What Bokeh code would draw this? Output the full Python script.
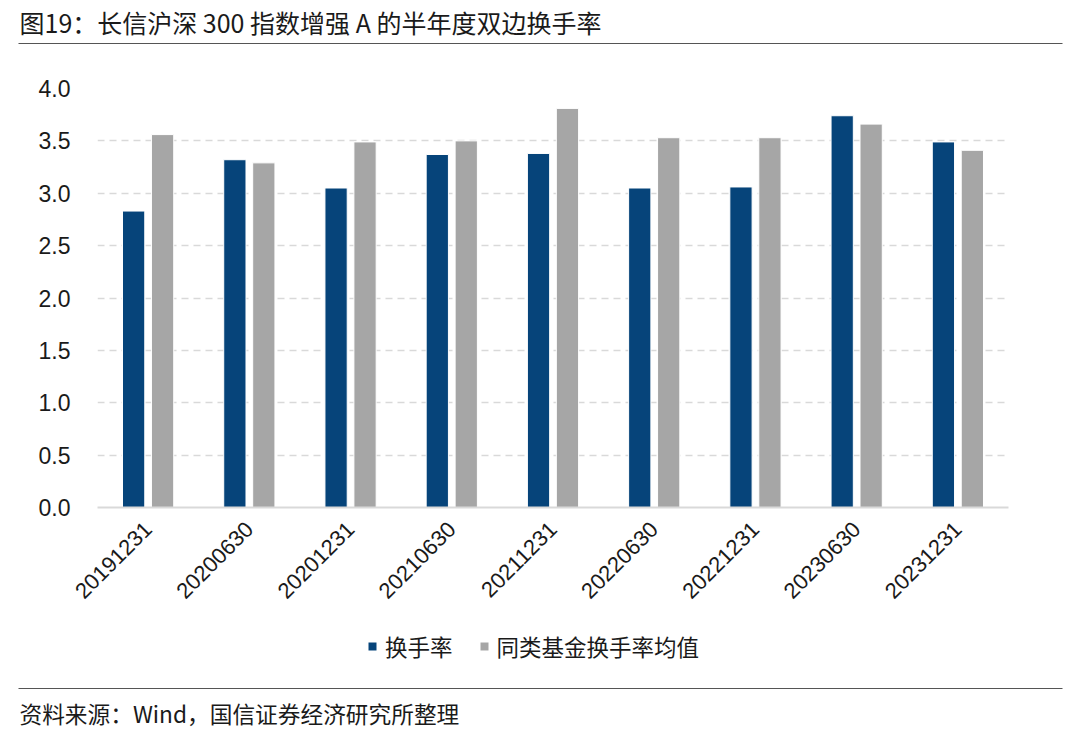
import math
from bokeh.plotting import figure
from bokeh.layouts import column
from bokeh.models import (ColumnDataSource, FactorRange, Range1d, Legend, LegendItem,
                          SingleIntervalTicker, PrintfTickFormatter)
from bokeh.transform import dodge
from bokeh.core.properties import value
from bokeh.embed import file_html
from bokeh.resources import INLINE

categories = ["20191231", "20200630", "20201231", "20210630", "20211231",
              "20220630", "20221231", "20230630", "20231231"]
turnover = [2.83, 3.32, 3.05, 3.37, 3.38, 3.05, 3.06, 3.74, 3.49]
peer_avg = [3.56, 3.29, 3.49, 3.50, 3.81, 3.53, 3.53, 3.66, 3.41]
series_names = ["换手率", "同类基金换手率均值"]
title_text = "图19：长信沪深 300 指数增强 A 的半年度双边换手率"
source_text = "资料来源：Wind，国信证券经济研究所整理"

CJK = "Noto Sans CJK SC"
LAT = "Liberation Sans"
BLUE = "#06447A"
GRAY = "#A6A6A6"
W = 1080

def bare(fig):
    fig.axis.visible = False
    fig.grid.visible = False
    fig.outline_line_color = None
    fig.min_border = 0
    fig.background_fill_color = "white"
    fig.border_fill_color = "white"

# header
HH = 52
hdr = figure(width=W, height=HH, x_range=Range1d(0, W), y_range=Range1d(HH, 0),
             output_backend="svg", toolbar_location=None, frame_align=False)
bare(hdr)
hdr.text(x=[19], y=[21], text=[title_text], text_font=value(CJK), text_font_size="25px",
         text_color="#1a1a1a", text_baseline="middle", text_align="left")
hdr.segment(x0=[18], y0=[43], x1=[1062], y1=[43], line_color="#555555", line_width=1.2)

# main chart
src = ColumnDataSource(dict(cat=categories, a=turnover, b=peer_avg))
p = figure(width=W, height=558, x_range=FactorRange(*categories, range_padding=0),
           y_range=Range1d(0, 4.0), output_backend="svg", toolbar_location=None,
           frame_align=False,
           min_border_left=97, min_border_right=72, min_border_top=36, min_border_bottom=103)
p.outline_line_color = None
p.background_fill_color = "white"
p.border_fill_color = "white"

r1 = p.vbar(x=dodge("cat", -0.143, range=p.x_range), top="a", width=0.22, source=src,
            fill_color=BLUE, line_color="white", line_width=1)
r2 = p.vbar(x=dodge("cat", 0.143, range=p.x_range), top="b", width=0.22, source=src,
            fill_color=GRAY, line_color="white", line_width=1)

p.xgrid.grid_line_color = None
p.ygrid.grid_line_color = "#D9D9D9"
p.ygrid.grid_line_dash = "7 5"
p.ygrid.grid_line_width = 1.5
p.yaxis.ticker = SingleIntervalTicker(interval=0.5)
p.yaxis.formatter = PrintfTickFormatter(format="%.1f")
p.yaxis.axis_line_color = None
p.yaxis.major_tick_line_color = None
p.yaxis.minor_tick_line_color = None
p.yaxis.major_label_text_font = LAT
p.yaxis.major_label_text_font_size = "23px"
p.yaxis.major_label_text_color = "#1a1a1a"
p.yaxis.major_label_standoff = 21

p.xaxis.axis_line_color = "#D9D9D9"
p.xaxis.axis_line_width = 2
p.xaxis.major_tick_line_color = None
p.xaxis.minor_tick_line_color = None
p.xaxis.major_label_orientation = math.pi / 4
p.xaxis.major_label_text_font = LAT
p.xaxis.major_label_text_font_size = "22px"
p.xaxis.major_label_text_color = "#1a1a1a"
p.xaxis.major_label_standoff = 12

# footer with legend and source
FH = 124
ftr = figure(width=W, height=FH, x_range=Range1d(0, W), y_range=Range1d(FH, 0),
             output_backend="svg", toolbar_location=None, frame_align=False)
bare(ftr)
# zero-height, off-range keys so the legend can show the series colours
keys = ColumnDataSource(dict(x=[2000], top=[0]))
k1 = ftr.vbar(x="x", top="top", bottom="top", width=1, source=keys, fill_color=BLUE, line_color=None)
k2 = ftr.vbar(x="x", top="top", bottom="top", width=1, source=keys, fill_color=GRAY, line_color=None)
legend = Legend(items=[LegendItem(label=series_names[0], renderers=[k1]),
                       LegendItem(label=series_names[1], renderers=[k2])],
                orientation="horizontal", location=(367, FH - 52),
                label_text_font=CJK, label_text_font_size="22.5px", label_text_color="#1a1a1a",
                glyph_width=10, glyph_height=10, spacing=26, label_standoff=8,
                border_line_color=None, background_fill_alpha=0, margin=0, padding=0)
ftr.add_layout(legend, "center")
ftr.segment(x0=[18], y0=[78], x1=[1062], y1=[78], line_color="#555555", line_width=1.2)
ftr.text(x=[19], y=[103], text=[source_text], text_font=value(CJK), text_font_size="22.7px",
         text_color="#1a1a1a", text_baseline="middle", text_align="left")

layout = column(hdr, p, ftr, spacing=0)
open("out.html", "w").write(file_html(layout, INLINE))
